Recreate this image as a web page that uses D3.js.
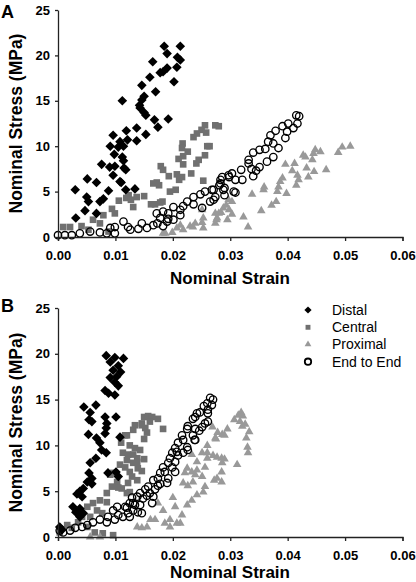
<!DOCTYPE html>
<html><head><meta charset="utf-8">
<script src="https://cdn.jsdelivr.net/npm/d3@7"></script>
<style>
html,body{margin:0;padding:0;background:#fff;}
svg{display:block;font-family:"Liberation Sans",Arial,Helvetica,sans-serif;}
</style></head>
<body><svg id="c" width="416" height="582"></svg>
<script>
// ---- data: [strain, stress (MPa)] ----
const xTicks = [0, 0.01, 0.02, 0.03, 0.04, 0.05, 0.06];
const yTicks = [0, 5, 10, 15, 20, 25];
const seriesNames = ["Distal", "Central", "Proximal", "End to End"];

const distalA = [[0.0185,21.0],[0.0213,21.0],[0.019,20.2],[0.0208,19.8],[0.0213,19.5],[0.0165,19.3],[0.019,18.6],[0.0207,18.7],[0.0183,18.2],[0.0178,18.1],[0.0202,17.1],[0.016,17.6],[0.0146,16.7],[0.017,16.0],[0.015,15.5],[0.0146,15.1],[0.0112,15.0],[0.0142,14.5],[0.0143,14.2],[0.015,13.7],[0.0153,13.4],[0.0192,13.0],[0.0168,12.9],[0.0174,12.1],[0.0137,12.0],[0.0119,11.7],[0.0096,11.2],[0.0153,11.3],[0.0137,10.6],[0.0121,10.7],[0.0108,10.5],[0.0091,10.0],[0.0105,9.9],[0.0114,10.0],[0.0098,9.1],[0.0112,8.8],[0.0076,8.0],[0.0114,8.4],[0.0099,7.8],[0.0115,7.6],[0.0118,7.4],[0.009,7.7],[0.0096,6.8],[0.011,6.0],[0.0051,6.4],[0.0067,6.0],[0.0088,5.1],[0.003,5.2],[0.0118,5.2],[0.005,4.4],[0.0053,3.9],[0.0073,3.9],[0.0079,4.2],[0.0047,2.9],[0.0031,2.1],[0.0067,2.6],[0.0134,5.3],[0.0108,6.1]];
const centralA = [[0.0256,12.3],[0.025,11.8],[0.0242,11.4],[0.0236,11.0],[0.026,10.0],[0.0217,10.3],[0.0216,9.8],[0.0256,9.0],[0.0218,8.9],[0.0226,9.4],[0.021,8.6],[0.0241,8.1],[0.0245,8.5],[0.0179,7.8],[0.0183,7.4],[0.0232,7.0],[0.0207,6.9],[0.0216,6.6],[0.0211,6.3],[0.0193,6.7],[0.0253,6.2],[0.0172,6.0],[0.0176,5.7],[0.0166,5.9],[0.0195,5.0],[0.015,4.5],[0.0123,4.6],[0.0119,4.3],[0.0106,4.0],[0.0127,4.1],[0.0137,4.4],[0.0178,3.8],[0.0182,3.9],[0.0169,3.6],[0.0131,3.3],[0.0094,3.1],[0.0099,2.6],[0.0079,2.4],[0.0061,1.9],[0.0073,1.5],[0.0041,1.2],[0.0021,1.1],[0.0009,1.1],[0.0053,0.8],[0.0088,0.6],[0.0274,12.3],[0.028,12.2],[0.0258,11.5],[0.0264,10.0],[0.0218,8.0],[0.0205,5.2],[0.0162,3.6]];
const proximalA = [[0.0509,10.0],[0.0495,9.9],[0.0488,9.3],[0.0467,7.4],[0.0457,9.4],[0.0448,9.6],[0.0445,9.2],[0.0443,8.5],[0.0446,7.2],[0.0431,8.8],[0.0427,9.0],[0.0433,7.6],[0.0436,6.6],[0.0412,8.1],[0.0408,7.3],[0.0417,6.8],[0.0396,8.0],[0.0419,6.3],[0.0415,5.7],[0.0391,6.5],[0.0387,6.1],[0.0384,5.5],[0.0382,5.0],[0.0398,4.8],[0.0359,5.5],[0.0358,5.2],[0.0338,4.7],[0.038,3.9],[0.0372,3.5],[0.0354,2.9],[0.0323,2.2],[0.0331,1.1],[0.0303,3.9],[0.0293,3.5],[0.0298,3.0],[0.0303,2.5],[0.0288,3.2],[0.028,2.6],[0.0295,1.9],[0.0276,1.9],[0.0274,1.5],[0.0253,2.1],[0.0253,1.0],[0.0251,3.0],[0.0297,4.1],[0.0284,2.7],[0.0274,2.6],[0.0277,2.1],[0.0239,1.5],[0.023,1.2],[0.0218,0.8],[0.0207,1.0],[0.0199,0.5],[0.0187,0.4],[0.0213,1.3],[0.0235,1.1],[0.0251,1.6],[0.0183,0.4]];
const endA = [[0.0415,13.4],[0.042,13.3],[0.0417,12.5],[0.041,12.0],[0.0401,12.5],[0.0391,12.2],[0.0379,11.7],[0.0399,11.6],[0.037,11.2],[0.0396,10.9],[0.0366,10.5],[0.0375,10.3],[0.0384,9.8],[0.0361,9.7],[0.0351,9.6],[0.034,9.3],[0.0375,8.8],[0.0364,8.3],[0.0332,8.5],[0.0332,8.1],[0.0351,7.7],[0.0337,7.5],[0.0345,7.3],[0.0319,7.4],[0.034,6.7],[0.0321,6.3],[0.0309,6.3],[0.0309,4.9],[0.0265,3.9],[0.0271,4.1],[0.0251,3.2],[0.0306,5.0],[0.029,4.6],[0.0271,5.2],[0.0256,5.0],[0.0283,6.3],[0.0297,6.8],[0.0303,7.0],[0.0281,5.7],[0.029,5.4],[0.0298,6.6],[0.0286,6.6],[0.0283,5.9],[0.0268,5.2],[0.0288,5.2],[0.0248,4.7],[0.0236,4.4],[0.0225,3.9],[0.0218,3.4],[0.0213,3.0],[0.0201,3.3],[0.0192,2.6],[0.0183,2.8],[0.0172,2.6],[0.0178,2.1],[0.0166,1.3],[0.0192,2.0],[0.0236,3.6],[0.0274,4.4],[0.0213,2.4],[0.0155,1.0],[0.0146,1.5],[0.019,1.7],[0.0173,1.5],[0.014,0.9],[0.0122,1.1],[0.0114,1.7],[0.0099,1.1],[0.0085,0.4],[0.0073,0.5],[0.0056,0.6],[0.0038,0.4],[0.0024,0.2],[0.0012,0.2],[0.0,0.2],[0.0099,0.4],[0.0126,0.8],[0.0091,1.0],[0.0183,1.2],[0.0201,1.9]];

const distalB = [[0.0084,19.8],[0.0099,19.6],[0.0114,19.5],[0.0091,19.1],[0.0105,18.7],[0.0096,18.2],[0.0109,18.0],[0.0102,17.5],[0.0091,17.4],[0.0099,16.9],[0.0105,16.5],[0.0082,16.0],[0.0088,15.7],[0.0099,15.5],[0.0045,14.2],[0.0066,14.4],[0.0056,13.6],[0.0082,13.1],[0.0101,13.1],[0.0054,12.8],[0.0059,12.6],[0.0085,12.4],[0.0084,11.9],[0.0053,11.2],[0.0082,11.3],[0.0108,10.9],[0.0067,10.8],[0.0073,10.3],[0.0076,9.5],[0.0084,9.2],[0.0066,8.6],[0.0056,8.1],[0.0054,7.0],[0.0101,7.1],[0.0059,6.4],[0.0087,7.0],[0.0051,6.0],[0.0059,5.8],[0.0044,5.3],[0.0038,5.0],[0.0033,4.7],[0.0042,4.4],[0.0026,3.3],[0.0038,3.1],[0.0031,2.7],[0.0044,2.6],[0.0038,2.2],[0.0003,1.1],[0.0007,0.8],[0.0105,6.6]];
const centralB = [[0.015,13.1],[0.0157,13.2],[0.0164,13.1],[0.0174,12.9],[0.016,12.6],[0.0146,12.4],[0.0152,11.9],[0.0155,11.4],[0.015,10.7],[0.0131,11.7],[0.012,11.1],[0.0125,10.0],[0.0134,9.7],[0.0143,9.5],[0.015,8.5],[0.0138,8.6],[0.0122,9.0],[0.0131,8.1],[0.0139,7.5],[0.0146,7.2],[0.0125,7.1],[0.0129,6.6],[0.0138,6.2],[0.0122,5.9],[0.012,4.8],[0.0134,12.2],[0.0146,12.2],[0.0183,11.8],[0.0117,11.1],[0.011,10.3],[0.0113,9.2],[0.0131,9.0],[0.0138,8.2],[0.012,8.4],[0.0108,7.9],[0.0117,7.6],[0.0096,7.0],[0.0103,6.0],[0.0094,5.5],[0.0111,5.3],[0.0125,4.9],[0.0085,4.8],[0.0073,4.0],[0.0061,3.7],[0.0085,3.8],[0.0051,3.3],[0.0068,2.9],[0.0077,2.6],[0.0042,2.2],[0.0056,2.2],[0.0035,1.6],[0.0016,1.3],[0.0024,1.0],[0.0051,1.1],[0.0064,0.5],[0.0078,0.4],[0.0096,0.2],[0.0003,0.5],[0.0091,6.8],[0.0105,5.4]];
const proximalB = [[0.0319,13.6],[0.0314,13.3],[0.0322,13.2],[0.0307,12.8],[0.0317,12.6],[0.0326,12.3],[0.0321,12.1],[0.0333,11.5],[0.0295,11.8],[0.029,11.1],[0.0328,10.8],[0.033,9.8],[0.0331,9.2],[0.0285,8.6],[0.029,8.5],[0.0312,7.9],[0.0285,7.1],[0.0285,6.0],[0.0274,10.8],[0.026,8.6],[0.027,8.9],[0.0277,8.7],[0.0286,8.1],[0.0233,9.0],[0.0242,8.2],[0.0225,7.5],[0.0256,7.6],[0.0233,7.1],[0.0239,6.8],[0.0251,6.6],[0.0277,6.4],[0.0272,6.2],[0.0218,5.9],[0.0226,5.6],[0.0256,5.5],[0.0253,4.9],[0.0242,4.6],[0.02,4.3],[0.0233,4.0],[0.0174,3.7],[0.0204,3.3],[0.0225,3.5],[0.0216,2.4],[0.0195,1.9],[0.0207,1.5],[0.0186,1.5],[0.0169,1.9],[0.0138,1.1],[0.0146,1.0],[0.0155,1.1],[0.0183,2.9],[0.0235,6.0],[0.0221,7.0],[0.0242,7.3],[0.026,9.2],[0.026,10.0],[0.0161,1.9],[0.0195,1.1],[0.0213,1.5],[0.0073,0.0],[0.0056,0.0],[0.0269,12.0],[0.0278,11.4],[0.0286,11.2],[0.0275,10.7],[0.0251,9.2]];
const endB = [[0.0265,15.2],[0.027,15.0],[0.026,14.6],[0.0268,14.4],[0.0254,14.3],[0.0261,13.9],[0.0242,13.5],[0.0239,13.1],[0.0261,13.5],[0.0235,12.9],[0.0261,12.6],[0.0251,12.0],[0.0226,12.1],[0.0225,11.8],[0.0239,11.8],[0.0235,11.1],[0.0216,11.1],[0.0218,10.6],[0.0239,10.6],[0.0209,10.3],[0.0225,9.8],[0.0226,9.5],[0.0204,9.7],[0.0207,9.3],[0.0199,9.2],[0.0218,9.2],[0.0195,8.6],[0.0204,8.2],[0.0192,8.1],[0.0183,7.6],[0.0199,7.6],[0.0186,7.1],[0.0204,7.1],[0.0178,7.0],[0.0174,6.4],[0.0192,6.4],[0.019,5.9],[0.0166,6.2],[0.0174,5.6],[0.0157,5.5],[0.0169,5.2],[0.0152,5.2],[0.016,4.8],[0.0143,4.8],[0.0138,4.4],[0.0148,4.2],[0.0129,4.3],[0.0125,3.7],[0.0134,3.5],[0.0164,3.7],[0.0166,4.4],[0.012,3.2],[0.0139,2.7],[0.0125,2.2],[0.0096,2.9],[0.0105,2.4],[0.0087,2.2],[0.0073,1.9],[0.0061,1.6],[0.0051,1.3],[0.0042,1.1],[0.003,1.0],[0.0021,0.7],[0.0009,0.5],[0.0003,0.7],[0.0085,1.6],[0.0099,1.9],[0.0113,2.2],[0.0122,2.6],[0.0131,2.9],[0.0117,3.3],[0.0103,3.3],[0.0131,3.7],[0.0146,2.6],[0.0143,3.5],[0.0155,4.5],[0.0178,5.8],[0.0209,8.9],[0.0238,10.6],[0.0246,11.6],[0.0256,12.4],[0.0247,13.6]];

// ---- drawing ----
const svg = d3.select("#c");
const FONT = '"Liberation Sans",Arial,Helvetica,sans-serif';
const colDistal = "#000", colCentral = "#707070", colProx = "#999999", colEnd = "#000";

const symDiamond = d3.symbol().type(d3.symbolSquare).size(46);
const symSquare = d3.symbol().type(d3.symbolSquare).size(44);
const symTri = d3.symbol().type(d3.symbolTriangle).size(32);

function panel(cfg) {
  const x = d3.scaleLinear().domain([0, 0.06]).range([58, 402.5]);
  const y = d3.scaleLinear().domain([0, 25]).range([cfg.y0, cfg.y25]);
  const g = svg.append("g");

  const pts = g.append("g");
  pts.selectAll(".cen").data(cfg.central).join("path")
    .attr("class","cen")
    .attr("d", symSquare).attr("fill", colCentral)
    .attr("transform", d => `translate(${x(d[0])},${y(d[1])})`);
  pts.selectAll(".prx").data(cfg.proximal).join("path")
    .attr("class","prx")
    .attr("d", symTri).attr("fill", colProx)
    .attr("transform", d => `translate(${x(d[0])},${y(d[1])})`);
  pts.selectAll(".dis").data(cfg.distal).join("path")
    .attr("class","dis")
    .attr("d", symDiamond).attr("fill", colDistal)
    .attr("transform", d => `translate(${x(d[0])},${y(d[1])}) rotate(45)`);
  pts.selectAll(".ete").data(cfg.end).join("circle")
    .attr("class","ete")
    .attr("cx", d => x(d[0])).attr("cy", d => y(d[1])).attr("r", 3.7)
    .attr("fill", "none").attr("stroke", colEnd).attr("stroke-width", 1.35);

  const xa = g.append("g").attr("transform", `translate(0,${cfg.y0})`)
    .call(d3.axisBottom(x).tickValues(xTicks).tickSize(4).tickSizeOuter(4).tickFormat(d3.format(".2f")));
  xa.selectAll("text").attr("y", 14).attr("font-size", 13).attr("font-weight", "bold")
    .attr("font-family", FONT).attr("fill", "#000");
  const ya = g.append("g").attr("transform", `translate(58,0)`)
    .call(d3.axisLeft(y).tickValues(yTicks).tickSize(3).tickSizeOuter(0).tickFormat(d3.format("d")));
  ya.selectAll("text").attr("x", -8).attr("font-size", 13).attr("font-weight", "bold")
    .attr("font-family", FONT).attr("fill", "#000");
  g.selectAll(".domain, .tick line").attr("stroke", "#222").attr("stroke-width", 1.3);

  g.append("text").attr("x", 230).attr("y", cfg.xTitleY).attr("text-anchor", "middle")
    .attr("font-size", 17).attr("font-weight", "bold").attr("font-family", FONT)
    .text("Nominal Strain");
  const cy = (cfg.y0 + cfg.y25) / 2;
  g.append("text").attr("transform", `translate(22,${cy}) rotate(-90)`).attr("text-anchor", "middle")
    .attr("font-size", 17.5).attr("font-weight", "bold").attr("font-family", FONT)
    .text("Nominal Stress (MPa)");
  g.append("text").attr("x", 1).attr("y", cfg.letterY).attr("font-size", 18).attr("font-weight", "bold")
    .attr("font-family", FONT).text(cfg.letter);
}

panel({y0: 237, y25: 10, distal: distalA, central: centralA, proximal: proximalA, end: endA,
       xTitleY: 284, letterY: 18, letter: "A"});
panel({y0: 537, y25: 308, distal: distalB, central: centralB, proximal: proximalB, end: endB,
       xTitleY: 578, letterY: 312, letter: "B"});

// legend
const leg = svg.append("g");
const legY = [310, 327.3, 344.3, 361.7];
seriesNames.forEach((name, i) => {
  const cx = 308, cy = legY[i];
  if (i === 0) leg.append("path").attr("d", d3.symbol().type(d3.symbolSquare).size(26)).attr("fill", colDistal)
      .attr("transform", `translate(${cx},${cy}) rotate(45)`);
  if (i === 1) leg.append("path").attr("d", d3.symbol().type(d3.symbolSquare).size(24)).attr("fill", colCentral)
      .attr("transform", `translate(${cx},${cy})`);
  if (i === 2) leg.append("path").attr("d", d3.symbol().type(d3.symbolTriangle).size(20)).attr("fill", colProx)
      .attr("transform", `translate(${cx},${cy})`);
  if (i === 3) leg.append("circle").attr("cx", cx).attr("cy", cy).attr("r", 3.2)
      .attr("fill", "none").attr("stroke", colEnd).attr("stroke-width", 1.8);
  leg.append("text").attr("x", 332).attr("y", cy + 5).attr("font-size", 14)
    .attr("font-family", FONT).attr("fill", "#000").text(name);
});
</script></body></html>
